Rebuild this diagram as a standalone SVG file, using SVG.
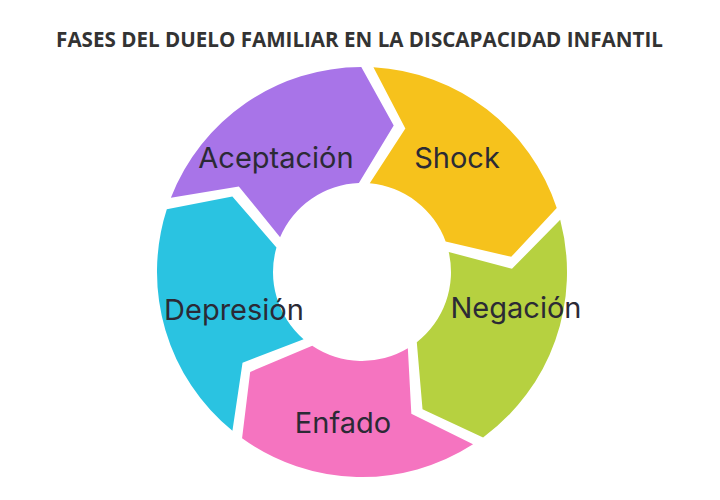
<svg xmlns="http://www.w3.org/2000/svg" width="720" height="500" viewBox="0 0 720 500">
<style>
.title{font-family:"Open Sans","Liberation Sans",sans-serif;font-weight:700;font-size:20.6px;fill:#333333;text-anchor:middle}
.lbl{font-family:Inter,"DejaVu Sans",sans-serif;font-size:29px;fill:#2b2a35;text-anchor:middle}
</style>
<rect width="720" height="500" fill="#ffffff"/>
<text class="title" x="359.5" y="47">FASES DEL DUELO FAMILIAR EN LA DISCAPACIDAD INFANTIL</text>
<g id="connectors"></g>
<g id="shock">
<path fill="#F6C21C" d="M373.44,67.32 A205,205 0 0 1 556.74,207.97 L511.23,256.84 L445.63,241.56 A89,89 0 0 0 369.76,183.34 L405.35,128.40 Z"/>
<text class="lbl" x="457" y="168">Shock</text>
</g>
<g id="negacion">
<path fill="#B6D140" d="M560.20,219.63 A205,205 0 0 1 483.08,437.43 L422.53,409.21 L416.79,342.13 A89,89 0 0 0 448.72,251.98 L511.97,268.86 Z"/>
<text class="lbl" x="516" y="318">Negación</text>
</g>
<g id="enfado">
<path fill="#F574C0" d="M473.05,444.32 A205,205 0 0 1 242.08,438.27 L250.18,371.98 L312.23,345.78 A89,89 0 0 0 407.84,348.29 L411.33,413.66 Z"/>
<text class="lbl" x="343" y="433">Enfado</text>
</g>
<g id="depresion">
<path fill="#2AC3E1" d="M232.43,430.86 A205,205 0 0 1 166.81,209.33 L232.36,196.55 L276.45,247.47 A89,89 0 0 0 303.61,339.17 L242.52,362.69 Z"/>
<text class="lbl" x="234" y="320">Depresión</text>
</g>
<g id="aceptacion">
<path fill="#A874E8" d="M170.87,197.87 A205,205 0 0 1 361.28,67.00 L393.70,125.39 L358.89,183.05 A89,89 0 0 0 280.08,237.23 L238.83,186.39 Z"/>
<text class="lbl" x="276" y="168">Aceptación</text>
</g>
</svg>
